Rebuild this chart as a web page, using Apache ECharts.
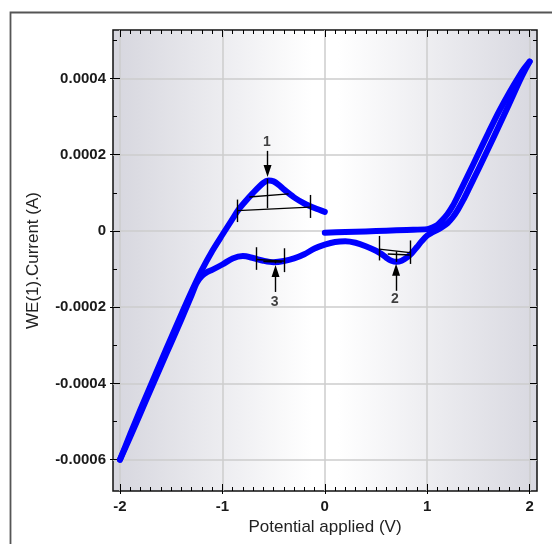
<!DOCTYPE html>
<html><head><meta charset="utf-8">
<script src="https://cdn.jsdelivr.net/npm/echarts@6/dist/echarts.min.js"></script>
<style>html,body{margin:0;padding:0;background:#fff}#c{width:552px;height:544px}</style>
</head><body><div id="c"></div>
<script>
// ---- data (potential V, current A) ----
const anodicScan = [[0,-0.0000045],[0.2,-0.000003],[0.4,-0.0000012],[0.6,0.0000008],[0.8,0.0000028],[1.0,0.0000048],[1.05,0.000009],[1.1,0.000016],[1.15,0.000029],[1.2,0.000045],[1.25,0.000066],[1.3,0.000092],[1.4,0.000147],[1.5,0.000203],[1.6,0.000259],[1.7,0.000313],[1.8,0.000362],[1.9,0.000407],[1.95,0.000427],[2.0,0.000444]];
const cathodicScan = [[2.0,0.000444],[1.95,0.000419],[1.9,0.000392],[1.8,0.000333],[1.7,0.000275],[1.6,0.000218],[1.5,0.000162],[1.4,0.000107],[1.35,0.00008],[1.3,0.000056],[1.25,0.000036],[1.2,0.000021],[1.15,0.000011],[1.1,0.000003],[1.05,-0.000004],[1.0,-0.000012],[0.95,-0.000026],[0.9,-0.000042],[0.85,-0.000058],[0.8,-0.00007],[0.75,-0.000078],[0.7,-0.000081],[0.65,-0.000078],[0.6,-0.00007],[0.55,-0.00006],[0.5,-0.000052],[0.4,-0.00004],[0.3,-0.000031],[0.2,-0.000027],[0.1,-0.000029],[0.0,-0.000036],[-0.1,-0.000046],[-0.2,-0.000061],[-0.3,-0.000072],[-0.4,-0.000079],[-0.5,-0.000082],[-0.6,-0.000078],[-0.7,-0.000071],[-0.8,-0.000066],[-0.9,-0.000072],[-1.0,-0.000088],[-1.1,-0.000102],[-1.15,-0.000108],[-1.2,-0.000118],[-1.25,-0.000136],[-1.3,-0.000168],[-1.4,-0.000232],[-1.5,-0.000293],[-1.6,-0.000354],[-1.7,-0.000416],[-1.8,-0.000478],[-1.9,-0.00054],[-2.0,-0.0006]];
const returnScan = [[-2.0,-0.0006],[-1.9,-0.000533],[-1.8,-0.000468],[-1.7,-0.000405],[-1.6,-0.000342],[-1.5,-0.00028],[-1.4,-0.000218],[-1.3,-0.000158],[-1.2,-0.000102],[-1.1,-0.000053],[-1.0,-0.00001],[-0.9,0.000032],[-0.85,0.000053],[-0.8,0.00007],[-0.7,0.0001],[-0.6,0.000126],[-0.55,0.000132],[-0.5,0.00013],[-0.45,0.000121],[-0.4,0.000109],[-0.3,0.000088],[-0.2,0.000072],[-0.1,0.00006],[0,0.00005]];

// peak annotation segments (data units)
const peakLines = [
  [[-0.851,0.0000532],[-0.146,0.0000624]],
  [[-0.851,0.0000823],[-0.851,0.0000233]],
  [[-0.146,0.0000944],[-0.146,0.0000341]],
  [[-0.737,0.0000891],[-0.353,0.0000973]],
  [[-0.559,0.000137],[-0.559,0.0000595]],
  [[0.531,-0.0000477],[0.833,-0.0000569]],
  [[0.531,-0.0000131],[0.531,-0.0000773]],
  [[0.833,-0.0000249],[0.833,-0.0000865]],
  [[0.615,-0.0000603],[0.83,-0.0000629]],
  [[0.696,-0.0000535],[0.696,-0.000081]],
  [[-0.669,-0.0000747],[-0.394,-0.0000792]],
  [[-0.669,-0.0000427],[-0.669,-0.000102]],
  [[-0.394,-0.0000454],[-0.394,-0.000108]],
  [[-0.6,-0.00008],[-0.42,-0.0000815]],
  [[-0.481,-0.0000765],[-0.481,-0.000085]]
];
const peakArrows = [
  [[-0.559,0.00021],[-0.559,0.000157]],
  [[0.696,-0.000157],[0.696,-0.000102]],
  [[-0.481,-0.00016],[-0.481,-0.000105]]
];
const peakLabels = [['1',-0.566,0.000232],['2',0.685,-0.000179],['3',-0.49,-0.000186]];

const xMajorTicks = [-2,-1,0,1,2];
const xMinorTicks = [-1.9,-1.8,-1.7,-1.6,-1.5,-1.4,-1.3,-1.2,-1.1,-0.9,-0.8,-0.7,-0.6,-0.5,-0.4,-0.3,-0.2,-0.1,0.1,0.2,0.3,0.4,0.5,0.6,0.7,0.8,0.9,1.1,1.2,1.3,1.4,1.5,1.6,1.7,1.8,1.9];
const yMajorTicks = [-0.0006,-0.0004,-0.0002,0,0.0002,0.0004];
const yMinorTicks = [-0.0005,-0.0003,-0.0001,0.0001,0.0003,0.0005];
const xRange = [-2.068,2.072];
const yRange = [-0.000682,0.000527];

const font = 'Liberation Sans, Arial, Helvetica, sans-serif';
const chart = echarts.init(document.getElementById('c'));

function tickAxis(kind, pos, ticks, len, inside, extra) {
  const r = kind === 'x' ? xRange : yRange;
  return Object.assign({
    type: 'value', position: pos, min: r[0], max: r[1],
    axisLine: {show: false, onZero: false},
    axisTick: {show: true, inside: inside, length: len, customValues: ticks, lineStyle: {color: '#000', width: 1}},
    axisLabel: {show: false},
    splitLine: {show: false}
  }, extra || {});
}

const xAxes = [
  tickAxis('x','bottom',xMajorTicks,7,true,{
    axisLabel: {show: true, customValues: xMajorTicks, formatter: v => String(v), margin: 8,
      fontSize: 15, fontWeight: 'bold', color: '#1a1a1a', fontFamily: font},
    splitLine: {show: true, lineStyle: {color: '#cccccc', width: 1.5}},
    name: 'Potential applied (V)', nameLocation: 'middle', nameGap: 22,
    nameTextStyle: {fontSize: 17, color: '#222', fontFamily: font}
  }),
  tickAxis('x','bottom',xMajorTicks,3,false),
  tickAxis('x','bottom',xMinorTicks,4,true),
  tickAxis('x','top',xMajorTicks,7,true),
  tickAxis('x','top',xMinorTicks,4,true)
];
const yAxes = [
  tickAxis('y','left',yMajorTicks,7,true,{
    axisLabel: {show: true, customValues: yMajorTicks, formatter: v => v === 0 ? '0' : v.toFixed(4), margin: 7,
      fontSize: 15, fontWeight: 'bold', color: '#1a1a1a', fontFamily: font},
    splitLine: {show: true, lineStyle: {color: '#cccccc', width: 1.5}},
    name: 'WE(1).Current (A)', nameLocation: 'middle', nameGap: 71, nameRotate: 90,
    nameTextStyle: {fontSize: 17, color: '#222', fontFamily: font}
  }),
  tickAxis('y','left',yMajorTicks,3,false),
  tickAxis('y','left',yMinorTicks,4,true),
  tickAxis('y','right',yMajorTicks,7,true),
  tickAxis('y','right',yMinorTicks,4,true)
];

const curveStyle = {color: '#0000ff', width: 6, cap: 'round', join: 'round'};
const lineItems = peakLines.map(s => [{coord: s[0], symbol: 'none'}, {coord: s[1], symbol: 'none'}]);
const arrowItems = peakArrows.map(s => [{coord: s[0], symbol: 'none'}, {coord: s[1], symbol: 'triangle', symbolSize: [8, 12]}]);

chart.setOption({
  animation: false,
  backgroundColor: '#fff',
  graphic: [{type: 'rect', shape: {x: 10.5, y: 12.5, width: 900, height: 900},
    style: {fill: 'none', stroke: '#555', lineWidth: 1.8}, silent: true}],
  grid: {left: 113, top: 30, width: 424, height: 461, show: true, borderColor: '#111', borderWidth: 1.5,
    backgroundColor: {type: 'linear', x: 0, y: 0, x2: 1, y2: 0, colorStops: [
      {offset: 0, color: '#d6d6de'}, {offset: 0.47, color: '#ffffff'}, {offset: 0.53, color: '#ffffff'}, {offset: 1, color: '#d8d8e0'}]}},
  xAxis: xAxes,
  yAxis: yAxes,
  series: [
    {type: 'line', data: anodicScan, smooth: 0.3, symbol: 'none', lineStyle: curveStyle, z: 3, silent: true,
      markLine: {silent: true, animation: false, symbol: ['none','none'], label: {show: false},
        lineStyle: {color: '#000', width: 1.4, type: 'solid'}, itemStyle: {color: '#000'},
        emphasis: {disabled: true}, data: lineItems.concat(arrowItems)}},
    {type: 'line', data: cathodicScan, smooth: 0.3, symbol: 'none', lineStyle: curveStyle, z: 3, silent: true},
    {type: 'line', data: returnScan, smooth: 0.3, symbol: 'none', lineStyle: curveStyle, z: 3, silent: true},
    {type: 'scatter', symbolSize: 0, silent: true, z: 5,
      data: peakLabels.map(p => ({name: p[0], value: [p[1], p[2]]})),
      label: {show: true, position: 'inside', formatter: '{b}', fontSize: 14, fontWeight: 'bold', color: '#111', fontFamily: font}}
  ]
});
</script></body></html>
